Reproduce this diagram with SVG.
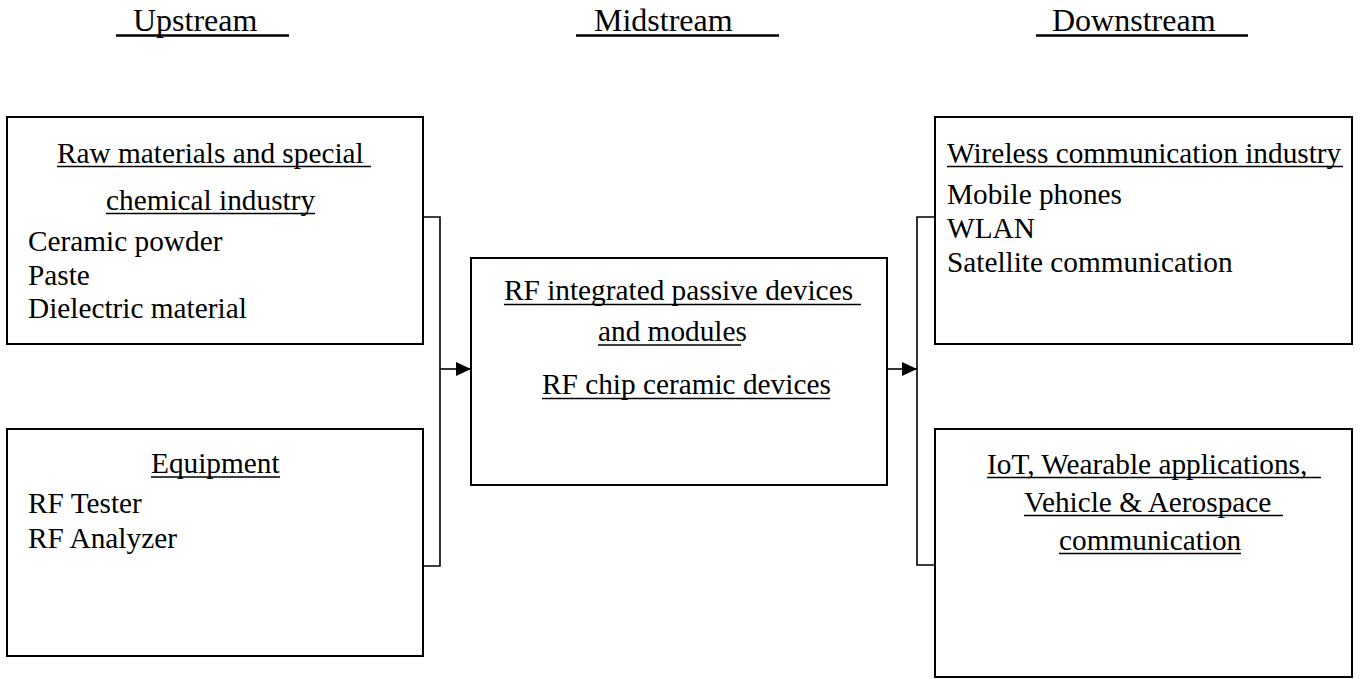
<svg xmlns="http://www.w3.org/2000/svg" width="1360" height="679" viewBox="0 0 1360 679">
<defs>
<marker id="arrow" markerWidth="16" markerHeight="14" refX="15" refY="7" orient="auto" markerUnits="userSpaceOnUse">
<path d="M0,0 L15,7 L0,14 Z" fill="#000"/>
</marker>
</defs>
<style>
text{font-family:"Liberation Serif","Times New Roman",serif;fill:#000;}
.hd{font-size:32px;}
.t{font-size:29.3px;}
.box{fill:#fff;stroke:#000;stroke-width:2;}
.ul{stroke:#000;stroke-width:1.6;}
.hul{stroke:#000;stroke-width:2.3;}
.con{fill:none;stroke:#000;stroke-width:1.6;}
</style>
<rect width="1360" height="679" fill="#fff"/>

<g id="headers">
<text class="hd" x="133" y="31">Upstream</text>
<line class="hul" x1="116" y1="35.5" x2="289" y2="35.5"/>
<text class="hd" x="594" y="31">Midstream</text>
<line class="hul" x1="576" y1="35.5" x2="779" y2="35.5"/>
<text class="hd" x="1052" y="31">Downstream</text>
<line class="hul" x1="1036" y1="35.5" x2="1248" y2="35.5"/>
</g>

<g id="connectors">
<polyline class="con" points="423,217 440,217 440,566 423,566"/>
<line class="con" x1="440" y1="369" x2="471" y2="369" marker-end="url(#arrow)"/>
<polyline class="con" points="935,217 917,217 917,565 935,565"/>
<line class="con" x1="887" y1="369" x2="917" y2="369" marker-end="url(#arrow)"/>
</g>

<g id="raw-materials">
<rect class="box" x="7" y="117" width="416" height="227"/>
<text class="t" x="57" y="163">Raw materials and special</text>
<line class="ul" x1="57" y1="166.5" x2="371" y2="166.5"/>
<text class="t" x="106" y="210">chemical industry</text>
<line class="ul" x1="106" y1="213.5" x2="315" y2="213.5"/>
<text class="t" x="28" y="251">Ceramic powder</text>
<text class="t" x="28" y="285">Paste</text>
<text class="t" x="28" y="318">Dielectric material</text>
</g>

<g id="equipment">
<rect class="box" x="7" y="429" width="416" height="227"/>
<text class="t" x="151" y="473">Equipment</text>
<line class="ul" x1="151" y1="477" x2="280" y2="477"/>
<text class="t" x="28" y="513">RF Tester</text>
<text class="t" x="28" y="548">RF Analyzer</text>
</g>

<g id="midstream">
<rect class="box" x="471" y="258" width="416" height="227"/>
<text class="t" x="504" y="300">RF integrated passive devices</text>
<line class="ul" x1="504" y1="304.5" x2="861" y2="304.5"/>
<text class="t" x="598" y="341">and modules</text>
<line class="ul" x1="598" y1="345" x2="741" y2="345"/>
<text class="t" x="542" y="394">RF chip ceramic devices</text>
<line class="ul" x1="542" y1="398.5" x2="830" y2="398.5"/>
</g>

<g id="wireless">
<rect class="box" x="935" y="117" width="417" height="227"/>
<text class="t" x="947" y="163">Wireless communication industry</text>
<line class="ul" x1="947" y1="166.5" x2="1343" y2="166.5"/>
<text class="t" x="947" y="204">Mobile phones</text>
<text class="t" x="947" y="238">WLAN</text>
<text class="t" x="947" y="272">Satellite communication</text>
</g>

<g id="iot">
<rect class="box" x="935" y="429" width="417" height="248"/>
<text class="t" x="987" y="474">IoT, Wearable applications,</text>
<line class="ul" x1="987" y1="477.5" x2="1321" y2="477.5"/>
<text class="t" x="1024" y="512">Vehicle &amp; Aerospace</text>
<line class="ul" x1="1024" y1="515.5" x2="1283" y2="515.5"/>
<text class="t" x="1059" y="550">communication</text>
<line class="ul" x1="1059" y1="553.5" x2="1241" y2="553.5"/>
</g>
</svg>
